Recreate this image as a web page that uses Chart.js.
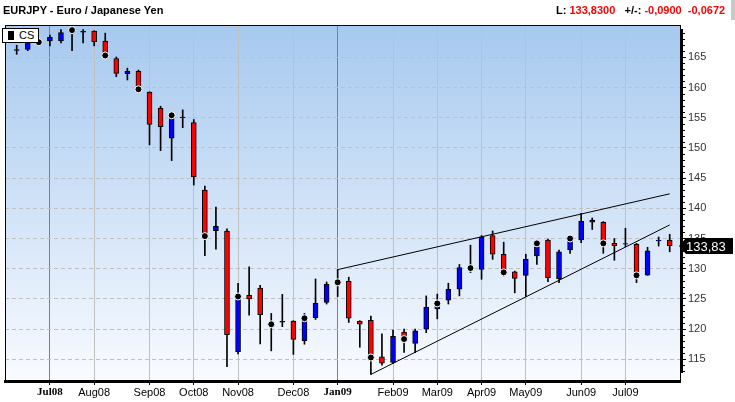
<!DOCTYPE html>
<html>
<head>
<meta charset="utf-8">
<title>EURJPY - Euro / Japanese Yen</title>
<script src="https://cdn.jsdelivr.net/npm/chart.js@4.4.1/dist/chart.umd.min.js"></script>
<style>
  html, body { margin: 0; padding: 0; background: #fff; }
  #wrap { position: relative; width: 735px; height: 402px; overflow: hidden; font-family: Arial, "Liberation Sans", sans-serif; }
  #chart { position: absolute; left: 0; top: 0; }
  #title { position: absolute; left: 3px; top: 4px; font-size: 11px; font-weight: bold; color: #000; white-space: nowrap; }
  #quote { position: absolute; left: 556px; top: 4px; font-size: 11px; font-weight: bold; color: #000; white-space: nowrap; }
  #quote .v { color: #f00; }
  #edge { position: absolute; left: 731px; top: 0; width: 4px; height: 20px; background: #c8c8c8; }
  #legend { position: absolute; left: 2px; top: 28px; width: 35px; height: 13px; border: 1px solid #000; background: #fff; font-size: 11px; line-height: 13px; }
  #legend .sw { position: absolute; left: 5px; top: 2px; width: 6px; height: 9px; background: #000; }
  #legend .tx { position: absolute; left: 16px; top: 0; }
</style>
</head>
<body>
<div id="wrap">
  <canvas id="chart" width="735" height="402"></canvas>
  <div id="title">EURJPY - Euro / Japanese Yen</div>
  <div id="quote">L: <span class="v">133,8300</span>&nbsp;&nbsp; +/-: <span class="v">-0,0900</span>&nbsp;&nbsp;<span class="v">-0,0672</span></div>
  <div id="edge"></div>
  <div id="legend"><span class="sw"></span><span class="tx">CS</span></div>
</div>
<script>
// weekly candles, Jun 2008 - Jul 2009 (index = week number)
const opens  = [166.15, 166.3, 167.4, 167.7, 167.75, 169.4, 169.15, 169.35, 167.7, 164.8,
                162.3, 162.7, 159.25, 156.55, 151.6, 155.0, 154.2, 143.0, 136.3, 136.25,
                116.25, 125.6, 126.8, 121.0, 121.15, 121.35, 118.1, 121.9, 124.4, 127.5,
                127.9, 121.3, 121.45, 115.4, 114.5, 119.5, 117.65, 120.0, 123.35, 124.8,
                126.6, 130.0, 129.9, 135.5, 132.4, 129.5, 128.9, 132.1, 134.75, 128.35,
                133.1, 134.75, 137.7, 137.7, 134.2, 134.05, 134.05, 128.95, 134.6, 134.75];
const highs  = [167.0, 168.3, 167.9, 168.7, 169.6, 169.7, 169.6, 169.4, 169.0, 165.05,
                163.2, 162.9, 159.3, 156.9, 155.5, 156.3, 154.7, 143.7, 140.2, 136.6,
                127.6, 130.3, 127.25, 122.6, 125.75, 121.4, 122.6, 128.3, 127.8, 129.85,
                128.6, 121.4, 122.15, 119.2, 119.85, 120.0, 120.0, 125.5, 125.8, 127.6,
                130.7, 133.9, 135.5, 136.25, 134.4, 129.6, 132.4, 134.4, 134.9, 133.1,
                135.2, 139.15, 138.4, 137.8, 135.0, 136.7, 134.2, 133.55, 135.25, 135.7];
const lows   = [165.5, 166.1, 167.1, 166.9, 167.4, 166.1, 167.4, 166.9, 165.2, 161.8,
                161.25, 159.6, 150.5, 149.55, 147.9, 153.35, 143.85, 132.15, 133.25, 113.8,
                115.9, 122.3, 117.55, 116.4, 120.4, 115.8, 117.5, 121.6, 124.15, 125.4,
                121.1, 117.0, 112.5, 114.05, 114.3, 116.15, 116.1, 119.4, 121.7, 124.15,
                125.5, 129.35, 128.25, 131.55, 128.8, 126.0, 125.4, 130.7, 127.85, 127.7,
                132.55, 134.3, 136.5, 132.55, 131.4, 133.65, 127.7, 128.9, 133.75, 132.8];
const closes = [166.3, 168.0, 167.6, 168.3, 169.1, 169.55, 169.3, 167.6, 165.5, 162.35,
                162.7, 159.9, 153.9, 153.5, 155.1, 155.1, 145.2, 135.6, 137.0, 119.1,
                125.1, 125.0, 122.4, 120.7, 121.3, 118.3, 121.3, 124.25, 127.4, 127.8,
                121.8, 120.8, 115.5, 114.35, 118.8, 118.7, 119.7, 123.6, 123.8, 126.6,
                130.2, 130.2, 135.25, 132.4, 129.7, 128.4, 131.55, 133.65, 128.5, 132.8,
                134.6, 137.85, 138.05, 134.3, 133.8, 134.15, 129.1, 132.95, 134.7, 133.83];

// black dot markers
const signalWeeks = [2, 5, 8, 11, 14, 17, 20, 23, 26, 29, 32, 35, 38, 41, 44, 47, 50, 53, 56];
const signalVals  = [167.5, 169.5, 165.3, 159.7, 155.4, 135.4, 125.4, 120.8, 121.8, 127.75,
                     115.3, 118.35, 124.25, 130.1, 129.4, 134.2, 135.0, 134.2, 128.9];

// drawn trend lines [week, value]
const upperTrend = [[29, 129.85], [59, 142.4]];
const lowerTrend = [[32, 112.5], [59, 137.25]];

// axis ticks
const monthWeeks  = [3, 7, 12, 16, 20, 25, 29, 34, 38, 42, 46, 51, 55];
const monthLabels = ["Jul08", "Aug08", "Sep08", "Oct08", "Nov08", "Dec08", "Jan09",
                     "Feb09", "Mar09", "Apr09", "May09", "Jun09", "Jul09"];
const boldMonths  = [3, 29];
const priceTicks  = [115, 120, 125, 130, 135, 140, 145, 150, 155, 160, 165];

const UP = "#0000ff", DOWN = "#ff0000";

const chartDecor = {
  id: "chartDecor",
  beforeDraw(chart) {
    const { ctx, chartArea: a } = chart;
    const g = ctx.createLinearGradient(0, a.top, 0, a.bottom);
    g.addColorStop(0, "#a6c9ef");
    g.addColorStop(1, "#f9fbff");
    ctx.save();
    ctx.fillStyle = g;
    ctx.fillRect(a.left, a.top, a.right - a.left, a.bottom - a.top);
    ctx.restore();
  },
  afterDraw(chart) {
    const { ctx, chartArea: a } = chart;
    const y = chart.scales.y;
    ctx.save();
    // frame top / left
    ctx.strokeStyle = "#000";
    ctx.lineWidth = 1;
    ctx.beginPath();
    ctx.moveTo(a.left + 0.5, a.bottom);
    ctx.lineTo(a.left + 0.5, a.top + 0.5);
    ctx.lineTo(a.right, a.top + 0.5);
    ctx.stroke();
    // right axis line + minor ticks
    ctx.lineWidth = 2;
    ctx.beginPath();
    ctx.moveTo(a.right + 2, a.top + 4);
    ctx.lineTo(a.right + 2, a.bottom - 8);
    ctx.stroke();
    ctx.lineWidth = 1;
    ctx.beginPath();
    for (let v = Math.ceil(y.min); v <= Math.floor(y.max); v++) {
      if (v % 5 === 0) continue;
      const py = Math.round(y.getPixelForValue(v)) + 0.5;
      if (py < a.top + 4 || py > a.bottom - 8) continue;
      ctx.moveTo(a.right + 2, py);
      ctx.lineTo(a.right + 5, py);
    }
    ctx.stroke();
    // last price tag
    const last = closes[closes.length - 1];
    const py = Math.round(y.getPixelForValue(last));
    ctx.fillStyle = "#000";
    ctx.beginPath();
    ctx.moveTo(a.right - 1, py);
    ctx.lineTo(a.right + 6, py - 8);
    ctx.lineTo(733, py - 8);
    ctx.lineTo(733, py + 8);
    ctx.lineTo(a.right + 6, py + 8);
    ctx.closePath();
    ctx.fill();
    ctx.fillStyle = "#fff";
    ctx.font = "13px Arial, 'Liberation Sans'";
    ctx.textBaseline = "middle";
    ctx.fillText(last.toFixed(2).replace(".", ","), a.right + 6, py + 1);
    ctx.restore();
  }
};

new Chart(document.getElementById("chart"), {
  type: "bar",
  data: {
    datasets: [
      {
        label: "wick",
        data: lows.map((l, i) => ({ x: i, y: [l, highs[i]] })),
        backgroundColor: "#000",
        barThickness: 1,
        grouped: false,
        order: 4
      },
      {
        label: "CS",
        data: opens.map((o, i) => ({ x: i, y: [o, closes[i]] })),
        backgroundColor: opens.map((o, i) => (closes[i] >= o ? UP : DOWN)),
        borderColor: "#000",
        borderWidth: 1,
        borderSkipped: false,
        barThickness: 5,
        grouped: false,
        order: 3
      },
      {
        type: "line",
        label: "upper",
        data: upperTrend.map(p => ({ x: p[0], y: p[1] })),
        borderColor: "#000",
        borderWidth: 1,
        pointRadius: 0,
        order: 2
      },
      {
        type: "line",
        label: "lower",
        data: lowerTrend.map(p => ({ x: p[0], y: p[1] })),
        borderColor: "#000",
        borderWidth: 1,
        pointRadius: 0,
        order: 2
      },
      {
        type: "line",
        label: "signal",
        data: signalWeeks.map((w, k) => ({ x: w, y: signalVals[k] })),
        showLine: false,
        pointRadius: 3.5,
        pointBackgroundColor: "#000",
        pointBorderColor: "#fff",
        pointBorderWidth: 1,
        order: 0
      }
    ]
  },
  options: {
    responsive: false,
    animation: false,
    events: [],
    layout: { padding: { left: 5, top: 25, right: 0, bottom: 0 } },
    plugins: { legend: { display: false }, tooltip: { enabled: false } },
    scales: {
      x: {
        type: "linear",
        min: -1.057,
        max: 59.93,
        offset: false,
        afterBuildTicks: s => { s.ticks = monthWeeks.map(v => ({ value: v })); },
        afterFit: s => { s.height = 21; },
        grid: {
          offset: false,
          color: c => (c.tick && boldMonths.includes(c.tick.value) ? "#808080" : "#c0c0c0"),
          tickColor: "#000",
          tickLength: 4
        },
        border: { color: "#000", width: 3 },
        ticks: {
          autoSkip: false,
          maxRotation: 0,
          padding: 1,
          color: "#000",
          font: c => (c.tick && boldMonths.includes(c.tick.value)
            ? { family: "'Liberation Serif', 'Times New Roman', serif", size: 11, weight: "bold" }
            : { family: "Arial, 'Liberation Sans'", size: 11 }),
          callback: v => monthLabels[monthWeeks.indexOf(v)]
        }
      },
      y: {
        position: "right",
        min: 111.41,
        max: 170.35,
        beginAtZero: false,
        afterBuildTicks: s => { s.ticks = priceTicks.map(v => ({ value: v })); },
        afterFit: s => { s.width = 55; },
        grid: { color: "#c0c0c0", tickColor: "#000", tickLength: 6 },
        border: { color: "#000", width: 1, dash: [4, 3] },
        ticks: {
          padding: 2,
          color: "#333",
          font: { family: "Arial, 'Liberation Sans'", size: 11 }
        }
      }
    }
  },
  plugins: [chartDecor]
});
</script>
</body>
</html>
